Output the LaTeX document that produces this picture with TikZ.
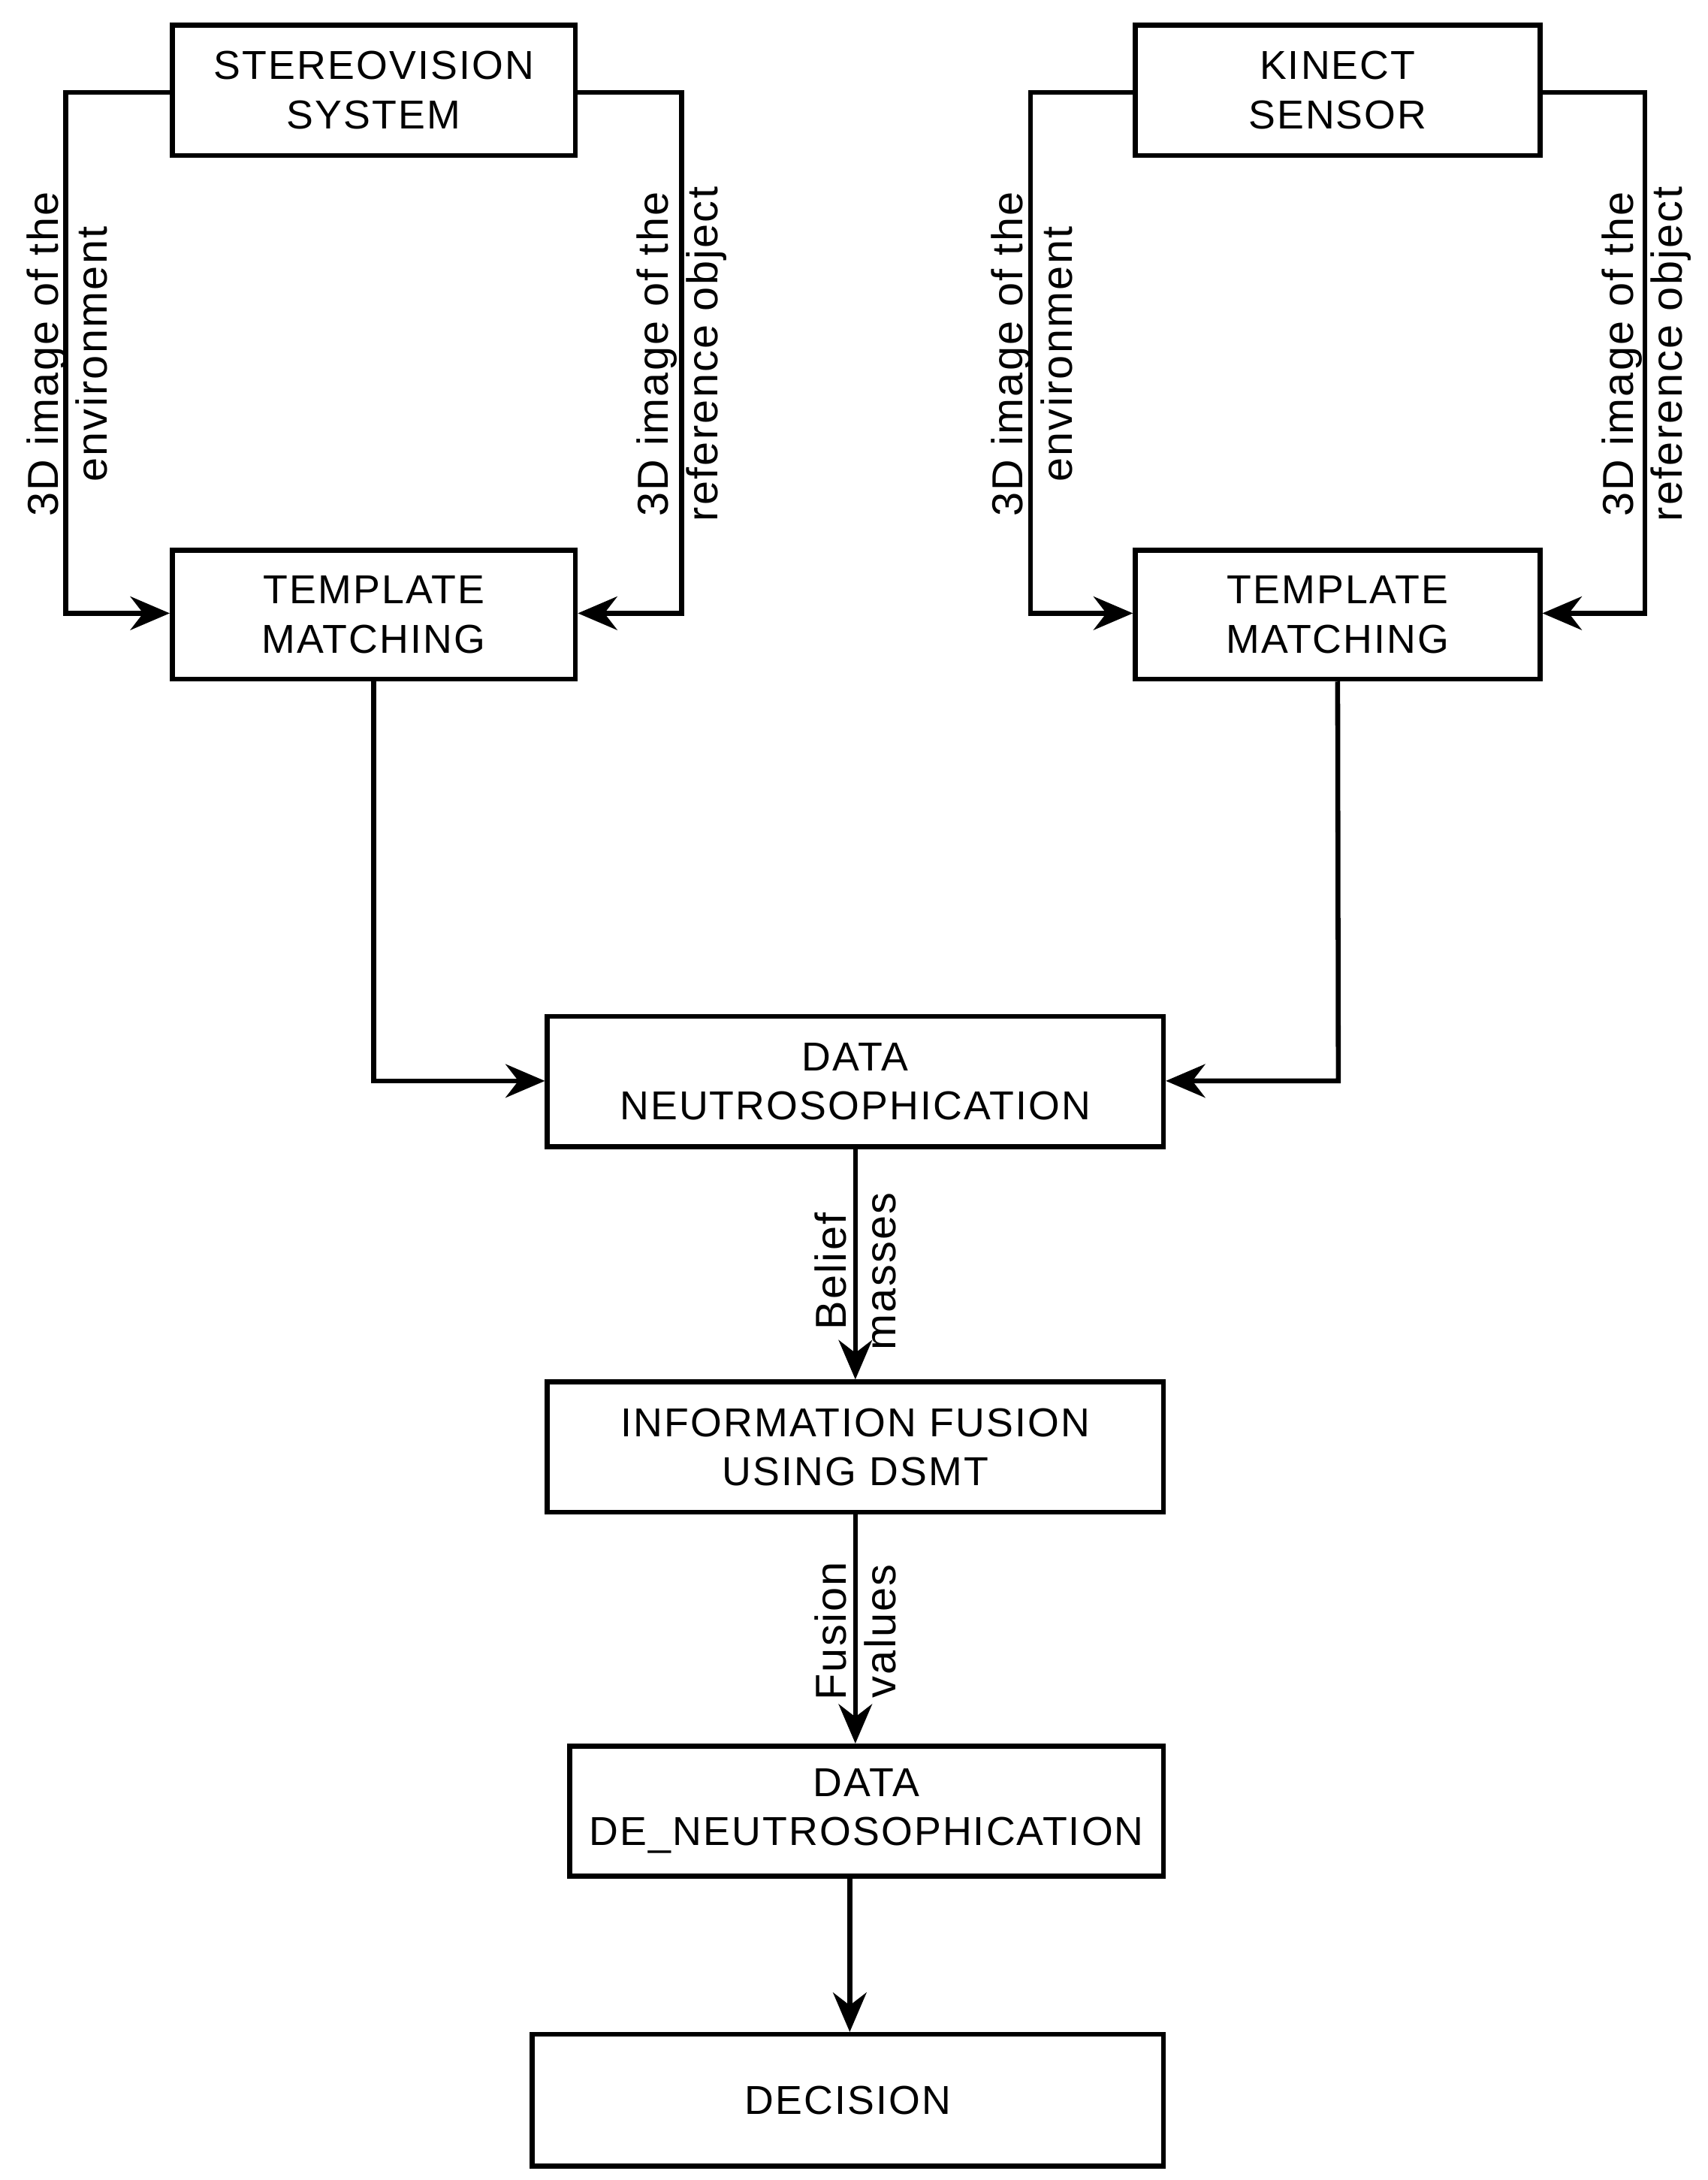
\documentclass[tikz,border=0pt]{standalone}
\usepackage{fontspec}
\setmainfont{Liberation Sans}[LetterSpace=4]
\usetikzlibrary{arrows.meta}
\begin{document}
\begin{tikzpicture}[x=0.05cm,y=-0.05cm,
  box/.style={draw,line width=5pt,inner sep=0pt,align=center,font=\fontsize{41}{50}\selectfont},
  ln/.style={line width=5pt},
  ar/.style={ln,-{Stealth[length=40pt,width=34pt]}},
  lab/.style={rotate=90,align=center,font=\fontsize{44}{50}\selectfont,inner sep=0pt}]
\useasboundingbox (0,0) rectangle (1220,1557);
\node[box,minimum width=288*0.05cm,minimum height=93*0.05cm] (st) at (267,64.5) {STEREOVISION\\SYSTEM};
\node[box,minimum width=289*0.05cm,minimum height=93*0.05cm] (ki) at (955.5,64.5) {KINECT\\SENSOR};
\node[box,minimum width=288*0.05cm,minimum height=92*0.05cm] (tl) at (267,439) {TEMPLATE\\MATCHING};
\node[box,minimum width=289*0.05cm,minimum height=92*0.05cm] (tr) at (955.5,439) {TEMPLATE\\MATCHING};
\node[box,minimum width=440*0.05cm,minimum height=93*0.05cm] (dn) at (611,772.5) {DATA\\NEUTROSOPHICATION};
\node[box,minimum width=440*0.05cm,minimum height=93*0.05cm] (fu) at (611,1033.5) {INFORMATION FUSION\\USING DSMT};
\node[box,minimum width=424*0.05cm,minimum height=93*0.05cm] (de) at (619,1293.5) {DATA\\DE\_NEUTROSOPHICATION};
\node[box,minimum width=451*0.05cm,minimum height=94*0.05cm] (dc) at (605.5,1500) {DECISION};
\coordinate (a1) at (47,66); \coordinate (a2) at (47,438);
\coordinate (b1) at (487,66); \coordinate (b2) at (487,438);
\coordinate (c1) at (736,66); \coordinate (c2) at (736,438);
\coordinate (d1) at (1175,66); \coordinate (d2) at (1175,438);
\draw[ar] (st.west |- a1) -- (a1) -- (a2) -- (tl.west |- a2);
\draw[ar] (st.east |- b1) -- (b1) -- (b2) -- (tl.east |- b2);
\draw[ar] (ki.west |- c1) -- (c1) -- (c2) -- (tr.west |- c2);
\draw[ar] (ki.east |- d1) -- (d1) -- (d2) -- (tr.east |- d2);
\coordinate (e) at (267,772); \coordinate (f) at (956,772);
\draw[ar] (tl.south) -- (e) -- (dn.west |- e);
\draw[ar] (tr.south) -- (f) -- (dn.east |- f);
\draw[ar] (dn.south) -- (fu.north);
\draw[ar] (fu.south) -- (fu.south |- de.north);
\draw[ar] (607,1340) -- (dc.north -| 607,0);
\node[lab] at (48,253) {3D image of the\\environment};
\node[lab] at (487,253) {3D image of the\\reference object};
\node[lab] at (737,253) {3D image of the\\environment};
\node[lab] at (1176,253) {3D image of the\\reference object};
\node[lab] at (611,908) {Belief\\masses};
\node[lab] at (611,1165) {Fusion\\values};
\end{tikzpicture}
\end{document}
